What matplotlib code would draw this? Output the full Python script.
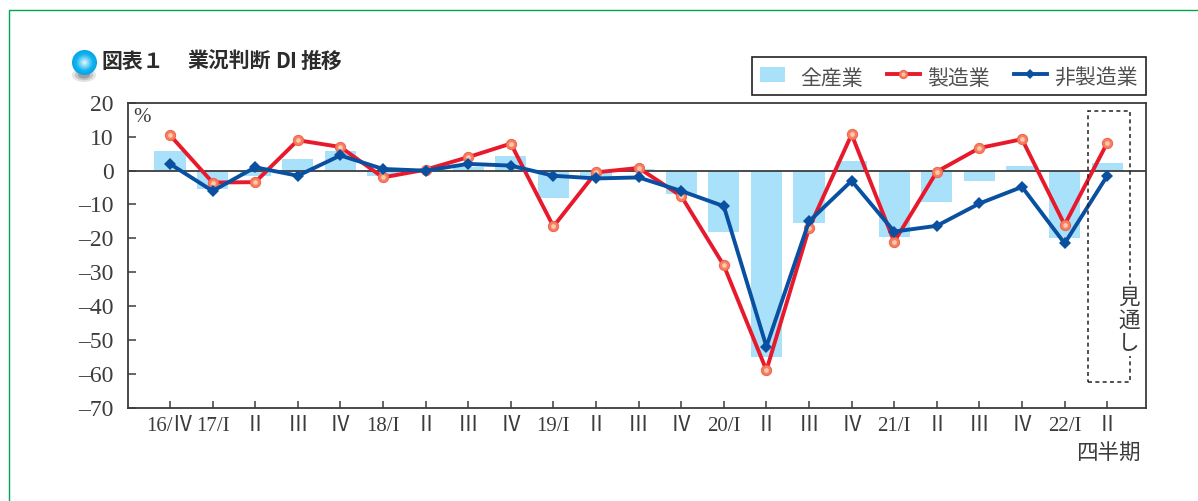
"""Plots the business DI chart."""

import matplotlib
matplotlib.use("Agg")
import matplotlib.pyplot as plt
import numpy as np
from matplotlib.legend_handler import HandlerTuple
from matplotlib.lines import Line2D
from matplotlib.patches import Ellipse, Rectangle

plt.rcParams["font.family"] = ["Liberation Serif", "Noto Sans CJK JP", "DejaVu Sans"]

# Values
quarters = ["16/Ⅳ", "17/I", "Ⅱ", "Ⅲ", "Ⅳ", "18/I", "Ⅱ", "Ⅲ", "Ⅳ", "19/I", "Ⅱ", "Ⅲ",
            "Ⅳ", "20/I", "Ⅱ", "Ⅲ", "Ⅳ", "21/I", "Ⅱ", "Ⅲ", "Ⅳ", "22/I", "Ⅱ"]
all_industries = [5.8, -5.4, -1.5, 3.4, 5.7, -1.5, 0.2, 1.0, 4.3, -8.0, -2.0, 0.4,
                  -7.0, -18.0, -55.0, -15.5, 3.0, -19.5, -9.3, -3.0, 1.3, -20.0, 2.2]
manufacturing = [10.5, -3.5, -3.4, 9.0, 7.0, -2.0, 0.3, 4.0, 8.0, -16.5, -0.5, 0.8,
                 -7.5, -28.0, -59.0, -17.0, 10.7, -21.0, -0.3, 6.7, 9.3, -16.0, 8.2]
non_manufacturing = [2.0, -6.0, 1.0, -1.5, 4.5, 0.5, 0.0, 2.0, 1.5, -1.5, -2.3, -2.0,
                     -6.0, -10.5, -52.0, -15.0, -3.0, -18.0, -16.3, -9.7, -4.8, -21.5, -1.5]
y_ticks = [20, 10, 0, -10, -20, -30, -40, -50, -60, -70]

W, H = 1198, 501
INK = "#3c3c3c"
JP = ["Noto Sans CJK JP", "DejaVu Sans"]


def fig_box(left, top, right, bottom):
    """Turns pixel edges (from the top left) into a figure-fraction rectangle."""
    return [left / W, 1 - bottom / H, (right - left) / W, (bottom - top) / H]


def px_text(x, y, s, **kwargs):
    """Puts a figure text at a pixel position (from the top left)."""
    kwargs.setdefault("va", "center")
    return fig.text(x / W, 1 - y / H, s, **kwargs)


def radial_bullet(fig):
    """Draws the round blue bullet in front of the title."""
    shadow = fig.add_axes(fig_box(72, 68, 96, 82))
    shadow.axis("off")
    shadow.set_xlim(-1, 1)
    shadow.set_ylim(-1, 1)
    for r, c in zip([1.0, 0.75, 0.5], ["#e4e4e4", "#c4c4c4", "#a0a0a0"]):
        shadow.add_patch(Ellipse((0, 0), 2 * r, 2 * r, color=c, lw=0))

    bullet = fig.add_axes(fig_box(72, 50, 97, 75))
    bullet.axis("off")
    bullet.set_xlim(-1, 1)
    bullet.set_ylim(-1, 1)
    grid = np.linspace(-1, 1, 80)
    xx, yy = np.meshgrid(grid, grid)
    img = bullet.imshow(np.hypot(xx, yy), extent=[-1, 1, -1, 1], vmin=0, vmax=1,
                        cmap=matplotlib.colors.LinearSegmentedColormap.from_list(
                            "bullet", ["#e6f7fe", "#7fd6f7", "#12b4ee", "#00a6e6"]))
    img.set_clip_path(Ellipse((0, 0), 2, 2, transform=bullet.transData))


fig = plt.figure(figsize=(W / 100, H / 100), dpi=100)
ax = fig.add_axes(fig_box(128, 103, 1146, 407.5))

x = np.arange(len(quarters))
bars = ax.bar(x, all_industries, width=0.73, color="#a9e0fa", zorder=1, label="全産業")
ax.axhline(0, color=INK, lw=1.3, zorder=2)

line_m, = ax.plot(x, manufacturing, "-o", color="#e8192c", lw=2.8, ms=7.4,
                  mfc="#f57f5f", mec="#f0604a", mew=0.7, zorder=3)
dots_m, = ax.plot(x, manufacturing, ls="none", marker="o", ms=3.4, mfc="#fdc8ae",
                  mec="none", zorder=3.1)
line_n, = ax.plot(x, non_manufacturing, "-D", color="#0a50a0", lw=2.8, ms=6.0,
                  mew=0, zorder=4)

ax.set_xlim(-0.986, 22.91)
ax.set_ylim(-70, 20)
ax.set_xticks(x, quarters)
ax.set_yticks(y_ticks, [str(v).replace("-", "–") for v in y_ticks])
ax.tick_params(axis="x", direction="in", length=5, width=1.1, color=INK, labelcolor=INK,
               labelsize=15, pad=7)
ax.tick_params(axis="y", direction="in", length=6, width=1.1, color=INK, labelcolor=INK,
               labelsize=17, pad=10.5)
for spine in ax.spines.values():
    spine.set_color(INK)
    spine.set_linewidth(1.3)

# Forecast box
ax.add_patch(Rectangle((21.55, -62.6), 0.99, 80.2, fill=False, ec="#222222", lw=1.1,
                       ls=(0, (2.6, 2.2)), zorder=5))
ax.text(22.51, -44.3, "見\n通\nし", ha="center", va="center", fontsize=15.5, color=INK,
        family=JP, linespacing=1.02, zorder=6,
        bbox=dict(fc="white", ec="none", pad=1.5))
px_text(133, 118, "%", ha="left", fontsize=15, color=INK)
px_text(1108, 454, "四半期", ha="center", fontsize=15.5, color=INK, family=JP)

# Legend
legend = ax.legend(
    [bars, (line_m, dots_m), line_n], ["全産業", "製造業", "非製造業"],
    handler_map={tuple: HandlerTuple(ndivide=1, pad=0)},
    loc="lower right", bbox_to_anchor=(1146 / W, 1 - 94.5 / H),
    bbox_transform=fig.transFigure, ncol=3, fancybox=False, framealpha=1,
    edgecolor="#222222", borderaxespad=0, borderpad=0.38, handlelength=1.62,
    handletextpad=0.35, columnspacing=1.12, prop={"family": JP, "size": 15},
    labelcolor="#505050", markerscale=0.8)
legend.get_frame().set_linewidth(1.2)
for label in legend.get_texts():
    label.set_y(-3)
# the swatch is narrower than the line samples
swatch = legend.legend_handles[0]
swatch.set_width(swatch.get_width() * 0.76)

# Title and page frame
title_style = dict(family=JP, fontsize=15, weight="bold", color="#2c2c2c", ha="left")
px_text(101, 61, "図表１", **title_style)
px_text(187, 61, "業況判断", **title_style)
px_text(275, 61, "D", **title_style)
px_text(289, 61, "I", **title_style)
px_text(301, 61, "推移", **title_style)
radial_bullet(fig)
fig.add_artist(Line2D([8.5 / W, 8.5 / W, 1], [0, 1 - 9.5 / H, 1 - 9.5 / H], color="#00a651", lw=1.0))

fig.savefig("out.png", dpi=100)
plt.close()
